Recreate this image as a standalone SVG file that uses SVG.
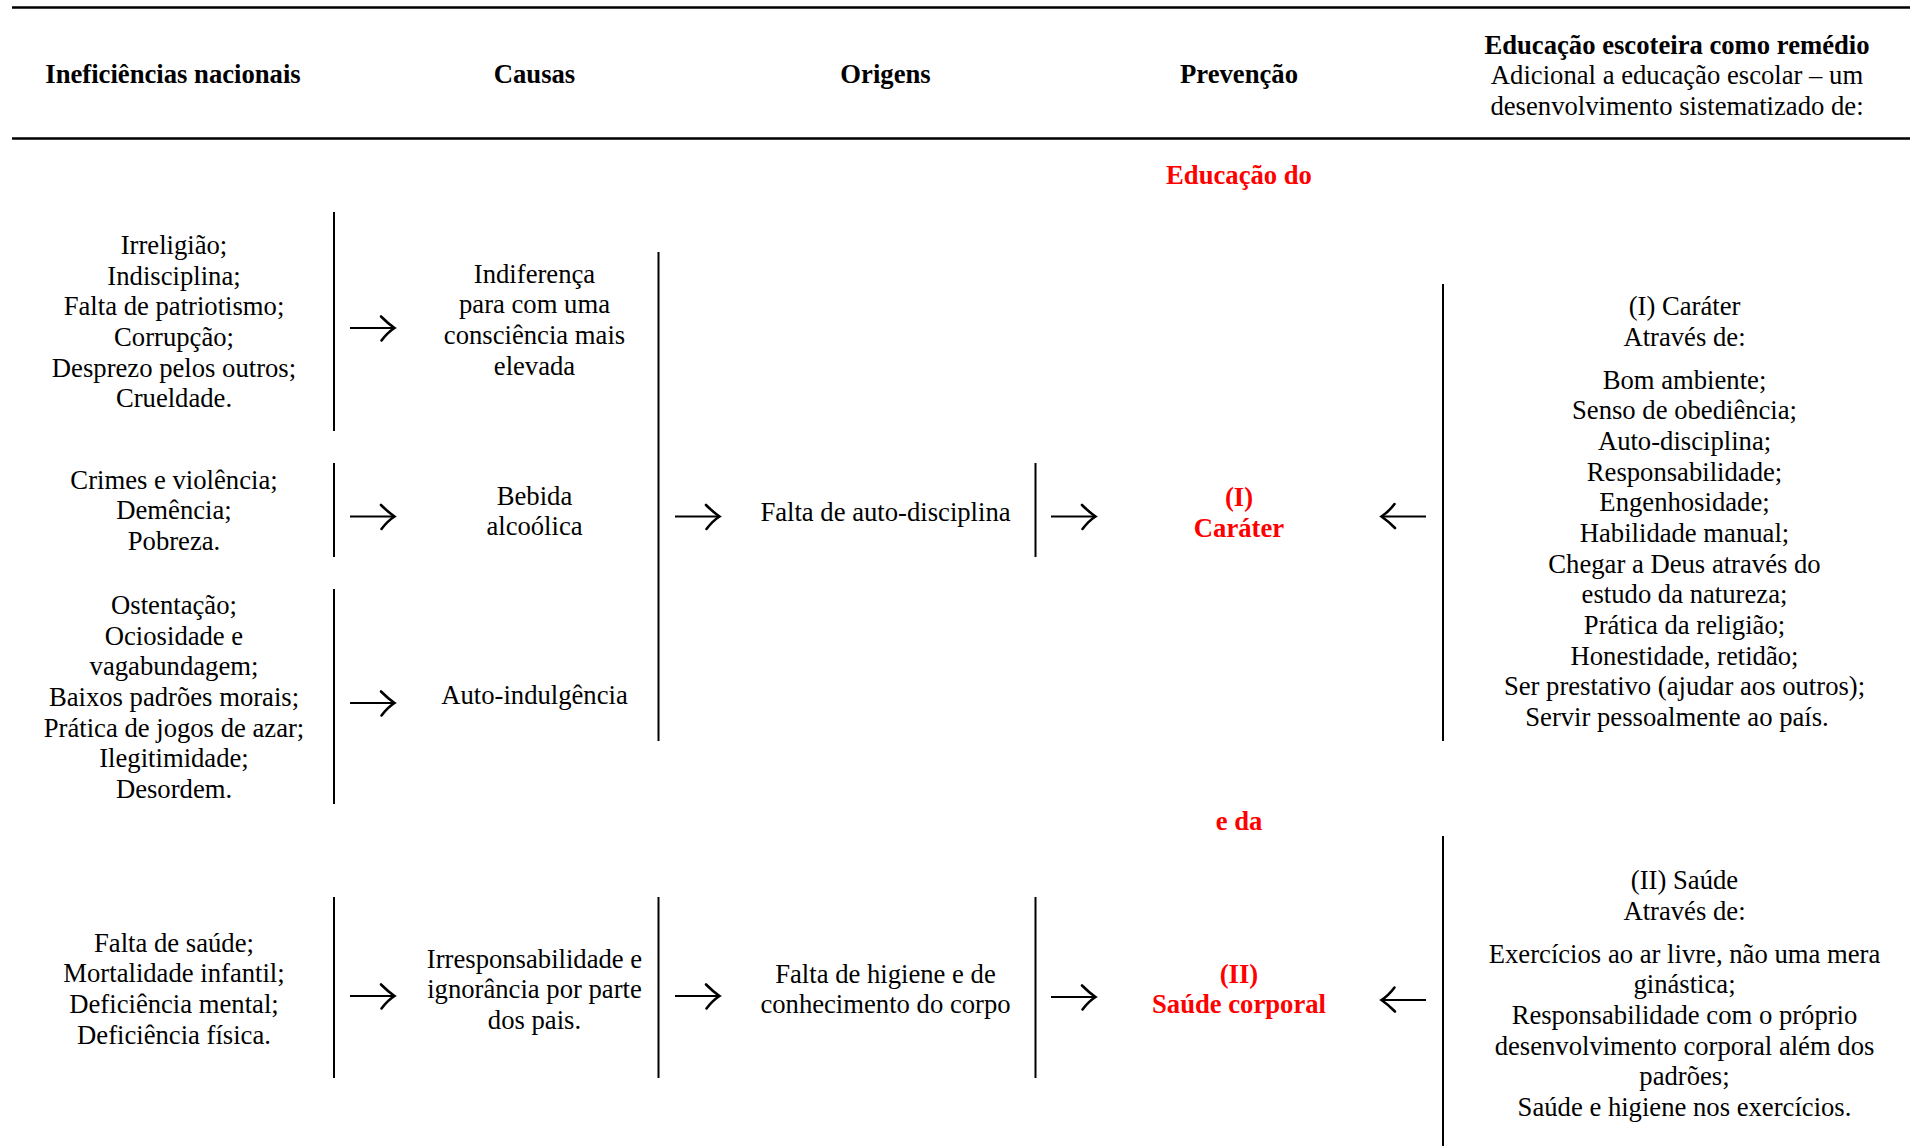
<svg xmlns="http://www.w3.org/2000/svg" width="1910" height="1146" viewBox="0 0 1910 1146">
<defs>
<style>
text{font-family:"Liberation Serif","Times New Roman",serif;font-size:26.67px;fill:#000;text-anchor:middle}
.b{font-weight:bold}
.red{fill:#ff0000;font-weight:bold}
.rule{stroke:#000;stroke-width:2.6}
.sep{stroke:#000;stroke-width:2}
.arr{stroke:#000;stroke-width:2.1;fill:none;marker-end:url(#head)}
</style>
<marker id="head" markerUnits="userSpaceOnUse" viewBox="0 0 18 28" markerWidth="18" markerHeight="28" refX="15" refY="14" orient="auto" overflow="visible">
<path d="M2,2.5 Q9,9.5 15.5,14 Q8.5,18.5 2.5,26.5" fill="none" stroke="#000" stroke-width="2.6" stroke-linecap="round"/>
</marker>
</defs>
<rect width="1910" height="1146" fill="#fff"/>

<g id="rules">
<line class="rule" x1="12" y1="7.5" x2="1910" y2="7.5"/>
<line class="rule" x1="12" y1="138.5" x2="1910" y2="138.5"/>
</g>

<g id="separators">
<line class="sep" x1="334" y1="212" x2="334" y2="431"/>
<line class="sep" x1="334" y1="463" x2="334" y2="557"/>
<line class="sep" x1="334" y1="589" x2="334" y2="804"/>
<line class="sep" x1="334" y1="897" x2="334" y2="1078"/>
<line class="sep" x1="658.5" y1="252" x2="658.5" y2="741"/>
<line class="sep" x1="658.5" y1="897" x2="658.5" y2="1078"/>
<line class="sep" x1="1035.5" y1="463" x2="1035.5" y2="557"/>
<line class="sep" x1="1035.5" y1="897" x2="1035.5" y2="1078"/>
<line class="sep" x1="1443" y1="284" x2="1443" y2="741"/>
<line class="sep" x1="1443" y1="836" x2="1443" y2="1146"/>
</g>

<g id="connectors">
<line class="arr" x1="350" y1="328" x2="394" y2="328"/>
<line class="arr" x1="350" y1="516.5" x2="394" y2="516.5"/>
<line class="arr" x1="350" y1="703" x2="394" y2="703"/>
<line class="arr" x1="350" y1="996" x2="394" y2="996"/>
<line class="arr" x1="675" y1="516.5" x2="719" y2="516.5"/>
<line class="arr" x1="675" y1="996" x2="719" y2="996"/>
<line class="arr" x1="1051" y1="516.5" x2="1095" y2="516.5"/>
<line class="arr" x1="1051" y1="997" x2="1095" y2="997"/>
<line class="arr" x1="1426" y1="516.5" x2="1382" y2="516.5"/>
<line class="arr" x1="1426" y1="1000" x2="1382" y2="1000"/>
</g>

<g id="nodes" transform="translate(0,1)">
<g id="header">
<g id="h-ineficiencias"><text class="b" x="173" y="82">Ineficiências nacionais</text></g>
<g id="h-causas"><text class="b" x="534.5" y="82">Causas</text></g>
<g id="h-origens"><text class="b" x="885.5" y="82">Origens</text></g>
<g id="h-prevencao"><text class="b" x="1239" y="82">Prevenção</text></g>
<g id="h-educacao">
<text class="b" x="1677" y="52.5">Educação escoteira como remédio</text>
<text x="1677" y="83">Adicional a educação escolar – um</text>
<text x="1677" y="113.5">desenvolvimento sistematizado de:</text>
</g>
</g>

<g id="ineficiencias-1">
<text x="174" y="253">Irreligião;</text>
<text x="174" y="283.7">Indisciplina;</text>
<text x="174" y="314.4">Falta de patriotismo;</text>
<text x="174" y="345">Corrupção;</text>
<text x="174" y="375.7">Desprezo pelos outros;</text>
<text x="174" y="406.4">Crueldade.</text>
</g>
<g id="ineficiencias-2">
<text x="174" y="487.5">Crimes e violência;</text>
<text x="174" y="518.2">Demência;</text>
<text x="174" y="548.9">Pobreza.</text>
</g>
<g id="ineficiencias-3">
<text x="174" y="613">Ostentação;</text>
<text x="174" y="643.7">Ociosidade e</text>
<text x="174" y="674.3">vagabundagem;</text>
<text x="174" y="705">Baixos padrões morais;</text>
<text x="174" y="735.7">Prática de jogos de azar;</text>
<text x="174" y="766.3">Ilegitimidade;</text>
<text x="174" y="797">Desordem.</text>
</g>
<g id="ineficiencias-4">
<text x="174" y="950.5">Falta de saúde;</text>
<text x="174" y="981.2">Mortalidade infantil;</text>
<text x="174" y="1011.8">Deficiência mental;</text>
<text x="174" y="1042.5">Deficiência física.</text>
</g>

<g id="causa-1">
<text x="534.5" y="281.5">Indiferença</text>
<text x="534.5" y="312.2">para com uma</text>
<text x="534.5" y="342.8">consciência mais</text>
<text x="534.5" y="373.5">elevada</text>
</g>
<g id="causa-2">
<text x="534.5" y="503.5">Bebida</text>
<text x="534.5" y="534.2">alcoólica</text>
</g>
<g id="causa-3"><text x="534.5" y="703">Auto-indulgência</text></g>
<g id="causa-4">
<text x="534.5" y="966.5">Irresponsabilidade e</text>
<text x="534.5" y="997.2">ignorância por parte</text>
<text x="534.5" y="1027.8">dos pais.</text>
</g>

<g id="origem-1"><text x="885.5" y="519.5">Falta de auto-disciplina</text></g>
<g id="origem-2">
<text x="885.5" y="981.5">Falta de higiene e de</text>
<text x="885.5" y="1012.2">conhecimento do corpo</text>
</g>

<g id="prevencao-educacao-do"><text class="red" x="1239" y="183">Educação do</text></g>
<g id="prevencao-carater">
<text class="red" x="1239" y="505">(I)</text>
<text class="red" x="1239" y="535.7">Caráter</text>
</g>
<g id="prevencao-e-da"><text class="red" x="1239" y="829">e da</text></g>
<g id="prevencao-saude">
<text class="red" x="1239" y="981.5">(II)</text>
<text class="red" x="1239" y="1012.2">Saúde corporal</text>
</g>

<g id="remedio-carater">
<text x="1684.5" y="314">(I) Caráter</text>
<text x="1684.5" y="344.7">Através de:</text>
<text x="1684.5" y="387.5">Bom ambiente;</text>
<text x="1684.5" y="418.2">Senso de obediência;</text>
<text x="1684.5" y="448.8">Auto-disciplina;</text>
<text x="1684.5" y="479.5">Responsabilidade;</text>
<text x="1684.5" y="510.2">Engenhosidade;</text>
<text x="1684.5" y="540.8">Habilidade manual;</text>
<text x="1684.5" y="571.5">Chegar a Deus através do</text>
<text x="1684.5" y="602.2">estudo da natureza;</text>
<text x="1684.5" y="632.8">Prática da religião;</text>
<text x="1684.5" y="663.5">Honestidade, retidão;</text>
<text x="1684.5" y="694.2">Ser prestativo (ajudar aos outros);</text>
<text x="1677" y="724.8">Servir pessoalmente ao país.</text>
</g>
<g id="remedio-saude">
<text x="1684.5" y="888">(II) Saúde</text>
<text x="1684.5" y="918.7">Através de:</text>
<text x="1684.5" y="961.5">Exercícios ao ar livre, não uma mera</text>
<text x="1684.5" y="992.2">ginástica;</text>
<text x="1684.5" y="1022.8">Responsabilidade com o próprio</text>
<text x="1684.5" y="1053.5">desenvolvimento corporal além dos</text>
<text x="1684.5" y="1084.2">padrões;</text>
<text x="1684.5" y="1114.8">Saúde e higiene nos exercícios.</text>
</g>
</g>
</svg>
